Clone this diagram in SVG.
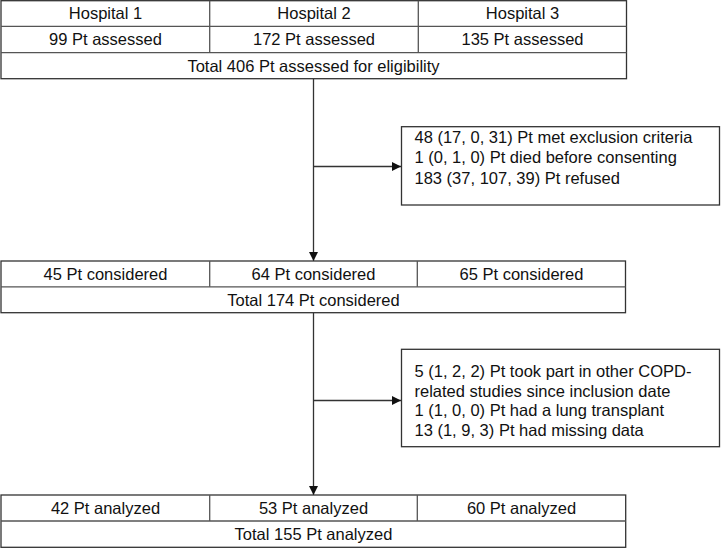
<svg xmlns="http://www.w3.org/2000/svg" width="721" height="548" viewBox="0 0 721 548">
<style>
.b{fill:#fff;stroke:#333;stroke-width:1.3}
.d{stroke:#555;stroke-width:1.3}
text{font-family:"Liberation Sans",Arial,sans-serif;font-size:16.5px;fill:#111}
.c{text-anchor:middle}
.cn{stroke:#333;stroke-width:1.3;fill:none}
</style>
<defs>
<marker id="ah" markerWidth="10" markerHeight="10" refX="9" refY="5" orient="auto" markerUnits="userSpaceOnUse">
<path d="M0,0.5 L9,5 L0,9.5 Z" fill="#111"/>
</marker>
</defs>
<rect width="721" height="548" fill="#fff"/>
<g id="connectors">
<line class="cn" x1="313.5" y1="79" x2="313.5" y2="261" marker-end="url(#ah)"/>
<line class="cn" x1="313.5" y1="166.5" x2="401" y2="166.5" marker-end="url(#ah)"/>
<line class="cn" x1="313.5" y1="313" x2="313.5" y2="495" marker-end="url(#ah)"/>
<line class="cn" x1="313.5" y1="400.5" x2="401" y2="400.5" marker-end="url(#ah)"/>
</g>
<g id="assessed">
<rect class="b" x="1" y="0.7" width="625.5" height="78"/>
<line class="d" x1="1" y1="26.3" x2="626.5" y2="26.3"/>
<line class="d" x1="1" y1="52.6" x2="626.5" y2="52.6"/>
<line class="d" x1="209.7" y1="0.7" x2="209.7" y2="52.6"/>
<line class="d" x1="418.3" y1="0.7" x2="418.3" y2="52.6"/>
<text class="c" x="105.5" y="19.3">Hospital 1</text>
<text class="c" x="314" y="19.3">Hospital 2</text>
<text class="c" x="522.5" y="19.3">Hospital 3</text>
<text class="c" x="105.5" y="45.3">99 Pt assessed</text>
<text class="c" x="314" y="45.3">172 Pt assessed</text>
<text class="c" x="522.5" y="45.3">135 Pt assessed</text>
<text class="c" x="313.5" y="71.5">Total 406 Pt assessed for eligibility</text>
</g>
<g id="exclusion1">
<rect class="b" x="401.5" y="126.7" width="318" height="78.3"/>
<text x="414.5" y="143">48 (17, 0, 31) Pt met exclusion criteria</text>
<text x="414.5" y="163.3">1 (0, 1, 0) Pt died before consenting</text>
<text x="414.5" y="183.6">183 (37, 107, 39) Pt refused</text>
</g>
<g id="considered">
<rect class="b" x="1" y="261" width="624.5" height="51.7"/>
<line class="d" x1="1" y1="286.8" x2="625.5" y2="286.8"/>
<line class="d" x1="209.7" y1="261" x2="209.7" y2="286.8"/>
<line class="d" x1="417.3" y1="261" x2="417.3" y2="286.8"/>
<text class="c" x="105.5" y="279.6">45 Pt considered</text>
<text class="c" x="313.5" y="279.6">64 Pt considered</text>
<text class="c" x="521.5" y="279.6">65 Pt considered</text>
<text class="c" x="313.5" y="305.5">Total 174 Pt considered</text>
</g>
<g id="exclusion2">
<rect class="b" x="401.5" y="349.3" width="318" height="97.4"/>
<text x="414.5" y="377">5 (1, 2, 2) Pt took part in other COPD-</text>
<text x="414.5" y="396.7">related studies since inclusion date</text>
<text x="414.5" y="416.4">1 (1, 0, 0) Pt had a lung transplant</text>
<text x="414.5" y="436.1">13 (1, 9, 3) Pt had missing data</text>
</g>
<g id="analyzed">
<rect class="b" x="1" y="495" width="624.7" height="52.3"/>
<line class="d" x1="1" y1="521" x2="625.7" y2="521"/>
<line class="d" x1="209.7" y1="495" x2="209.7" y2="521"/>
<line class="d" x1="417.3" y1="495" x2="417.3" y2="521"/>
<text class="c" x="105.5" y="513.6">42 Pt analyzed</text>
<text class="c" x="313.5" y="513.6">53 Pt analyzed</text>
<text class="c" x="521.5" y="513.6">60 Pt analyzed</text>
<text class="c" x="313.5" y="539.7">Total 155 Pt analyzed</text>
</g>
</svg>
